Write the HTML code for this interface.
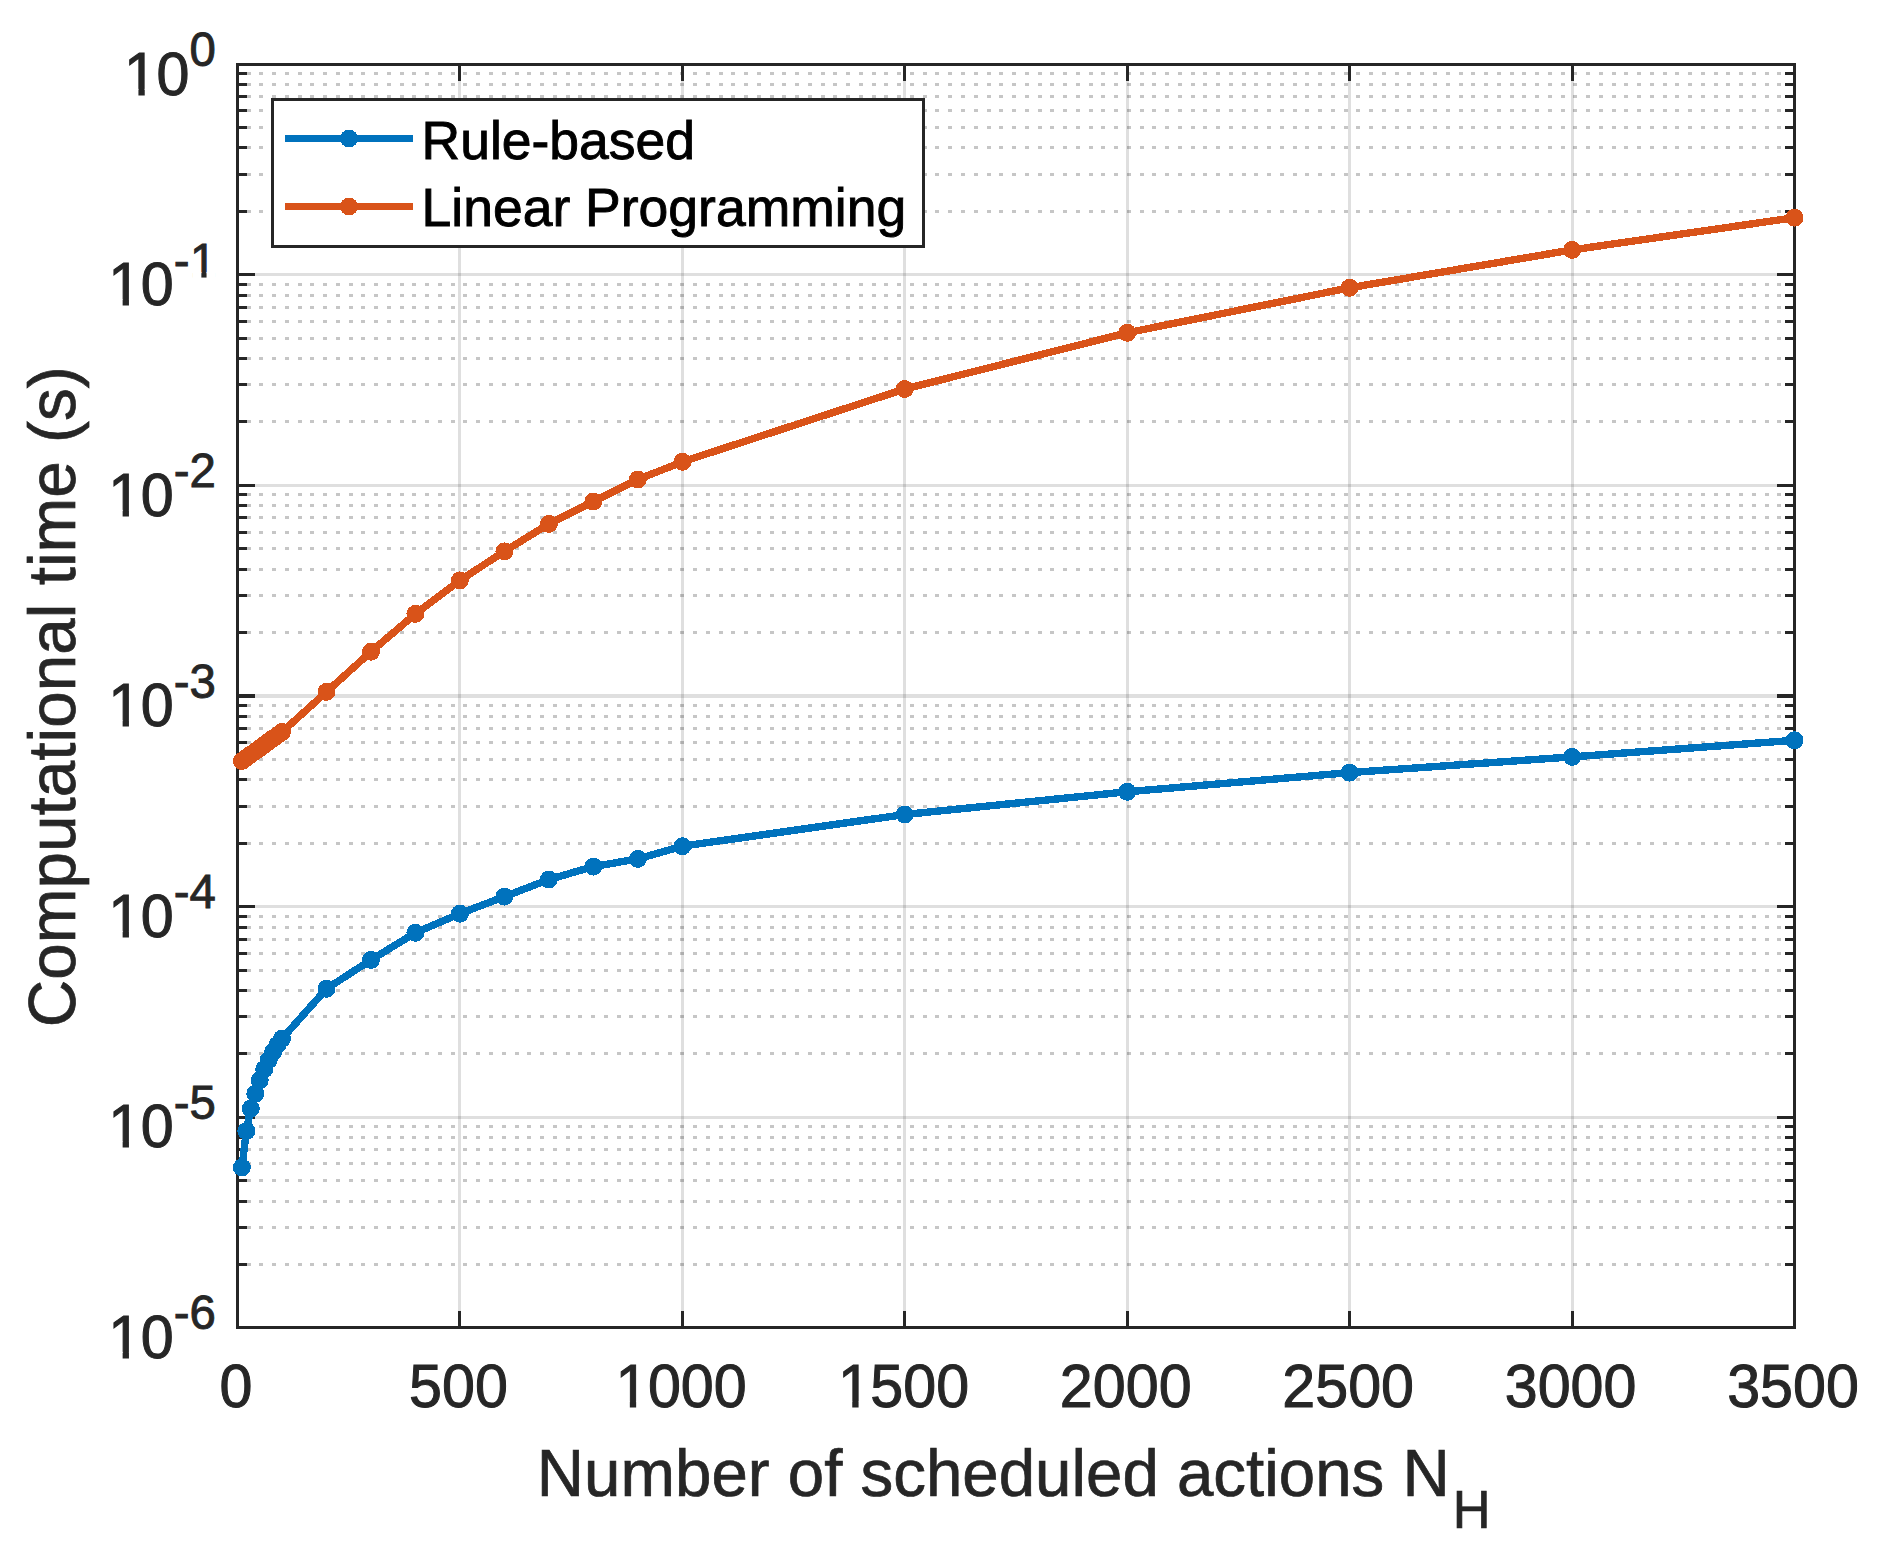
<!DOCTYPE html>
<html lang="en"><head><meta charset="utf-8"><title>Computational time</title>
<style>
html,body{margin:0;padding:0;background:#fff;}
body{width:1891px;height:1560px;overflow:hidden;}
svg{display:block;}
text{font-family:"Liberation Sans",Arial,Helvetica,sans-serif;fill:#262626;}
.tk{font-size:60px;stroke:#262626;stroke-width:1px;}
.ex{font-size:48px;stroke:#262626;stroke-width:0.9px;}
.lb{font-size:66px;stroke:#262626;stroke-width:0.7px;}
.sb{font-size:52.8px;stroke:#262626;stroke-width:0.7px;}
.lg{font-size:54px;fill:#000;stroke:#000;stroke-width:0.9px;}
</style></head><body>
<svg width="1891" height="1560" viewBox="0 0 1891 1560">
<rect x="0" y="0" width="1891" height="1560" fill="#fff"/>
<g shape-rendering="crispEdges" fill="none">
<g stroke="#1a1a1a" stroke-opacity="0.25" stroke-width="3" stroke-dasharray="4 8.757" stroke-dashoffset="3.65">
<line x1="237.5" y1="211.5" x2="1794.5" y2="211.5"/>
<line x1="237.5" y1="174.5" x2="1794.5" y2="174.5"/>
<line x1="237.5" y1="147.5" x2="1794.5" y2="147.5"/>
<line x1="237.5" y1="127.5" x2="1794.5" y2="127.5"/>
<line x1="237.5" y1="110.5" x2="1794.5" y2="110.5"/>
<line x1="237.5" y1="96.5" x2="1794.5" y2="96.5"/>
<line x1="237.5" y1="84.5" x2="1794.5" y2="84.5"/>
<line x1="237.5" y1="73.5" x2="1794.5" y2="73.5"/>
<line x1="237.5" y1="421.5" x2="1794.5" y2="421.5"/>
<line x1="237.5" y1="384.5" x2="1794.5" y2="384.5"/>
<line x1="237.5" y1="358.5" x2="1794.5" y2="358.5"/>
<line x1="237.5" y1="338.5" x2="1794.5" y2="338.5"/>
<line x1="237.5" y1="321.5" x2="1794.5" y2="321.5"/>
<line x1="237.5" y1="307.5" x2="1794.5" y2="307.5"/>
<line x1="237.5" y1="295.5" x2="1794.5" y2="295.5"/>
<line x1="237.5" y1="284.5" x2="1794.5" y2="284.5"/>
<line x1="237.5" y1="632.5" x2="1794.5" y2="632.5"/>
<line x1="237.5" y1="595.5" x2="1794.5" y2="595.5"/>
<line x1="237.5" y1="569.5" x2="1794.5" y2="569.5"/>
<line x1="237.5" y1="548.5" x2="1794.5" y2="548.5"/>
<line x1="237.5" y1="532.5" x2="1794.5" y2="532.5"/>
<line x1="237.5" y1="517.5" x2="1794.5" y2="517.5"/>
<line x1="237.5" y1="505.5" x2="1794.5" y2="505.5"/>
<line x1="237.5" y1="494.5" x2="1794.5" y2="494.5"/>
<line x1="237.5" y1="843.5" x2="1794.5" y2="843.5"/>
<line x1="237.5" y1="806.5" x2="1794.5" y2="806.5"/>
<line x1="237.5" y1="779.5" x2="1794.5" y2="779.5"/>
<line x1="237.5" y1="759.5" x2="1794.5" y2="759.5"/>
<line x1="237.5" y1="742.5" x2="1794.5" y2="742.5"/>
<line x1="237.5" y1="728.5" x2="1794.5" y2="728.5"/>
<line x1="237.5" y1="716.5" x2="1794.5" y2="716.5"/>
<line x1="237.5" y1="705.5" x2="1794.5" y2="705.5"/>
<line x1="237.5" y1="1053.5" x2="1794.5" y2="1053.5"/>
<line x1="237.5" y1="1016.5" x2="1794.5" y2="1016.5"/>
<line x1="237.5" y1="990.5" x2="1794.5" y2="990.5"/>
<line x1="237.5" y1="970.5" x2="1794.5" y2="970.5"/>
<line x1="237.5" y1="953.5" x2="1794.5" y2="953.5"/>
<line x1="237.5" y1="939.5" x2="1794.5" y2="939.5"/>
<line x1="237.5" y1="927.5" x2="1794.5" y2="927.5"/>
<line x1="237.5" y1="916.5" x2="1794.5" y2="916.5"/>
<line x1="237.5" y1="1264.5" x2="1794.5" y2="1264.5"/>
<line x1="237.5" y1="1227.5" x2="1794.5" y2="1227.5"/>
<line x1="237.5" y1="1201.5" x2="1794.5" y2="1201.5"/>
<line x1="237.5" y1="1180.5" x2="1794.5" y2="1180.5"/>
<line x1="237.5" y1="1163.5" x2="1794.5" y2="1163.5"/>
<line x1="237.5" y1="1149.5" x2="1794.5" y2="1149.5"/>
<line x1="237.5" y1="1137.5" x2="1794.5" y2="1137.5"/>
<line x1="237.5" y1="1126.5" x2="1794.5" y2="1126.5"/>
</g>
<g stroke="#262626" stroke-opacity="0.15" stroke-width="3">
<line x1="459.5" y1="64.5" x2="459.5" y2="1327.5"/>
<line x1="682.5" y1="64.5" x2="682.5" y2="1327.5"/>
<line x1="904.5" y1="64.5" x2="904.5" y2="1327.5"/>
<line x1="1127.5" y1="64.5" x2="1127.5" y2="1327.5"/>
<line x1="1349.5" y1="64.5" x2="1349.5" y2="1327.5"/>
<line x1="1572.5" y1="64.5" x2="1572.5" y2="1327.5"/>
<line x1="237.5" y1="274.5" x2="1794.5" y2="274.5"/>
<line x1="237.5" y1="485.5" x2="1794.5" y2="485.5"/>
<line x1="237.5" y1="696.0" x2="1794.5" y2="696.0" stroke-width="4"/>
<line x1="237.5" y1="906.5" x2="1794.5" y2="906.5"/>
<line x1="237.5" y1="1117.5" x2="1794.5" y2="1117.5"/>
</g>
</g>
<g shape-rendering="crispEdges" stroke="#262626" stroke-width="3" fill="none">
<line x1="459.5" y1="1327.5" x2="459.5" y2="1311.0"/>
<line x1="459.5" y1="64.5" x2="459.5" y2="81.0"/>
<line x1="682.5" y1="1327.5" x2="682.5" y2="1311.0"/>
<line x1="682.5" y1="64.5" x2="682.5" y2="81.0"/>
<line x1="904.5" y1="1327.5" x2="904.5" y2="1311.0"/>
<line x1="904.5" y1="64.5" x2="904.5" y2="81.0"/>
<line x1="1127.5" y1="1327.5" x2="1127.5" y2="1311.0"/>
<line x1="1127.5" y1="64.5" x2="1127.5" y2="81.0"/>
<line x1="1349.5" y1="1327.5" x2="1349.5" y2="1311.0"/>
<line x1="1349.5" y1="64.5" x2="1349.5" y2="81.0"/>
<line x1="1572.5" y1="1327.5" x2="1572.5" y2="1311.0"/>
<line x1="1572.5" y1="64.5" x2="1572.5" y2="81.0"/>
<line x1="237.5" y1="211.5" x2="247.0" y2="211.5"/>
<line x1="1794.5" y1="211.5" x2="1785.0" y2="211.5"/>
<line x1="237.5" y1="174.5" x2="247.0" y2="174.5"/>
<line x1="1794.5" y1="174.5" x2="1785.0" y2="174.5"/>
<line x1="237.5" y1="147.5" x2="247.0" y2="147.5"/>
<line x1="1794.5" y1="147.5" x2="1785.0" y2="147.5"/>
<line x1="237.5" y1="127.5" x2="247.0" y2="127.5"/>
<line x1="1794.5" y1="127.5" x2="1785.0" y2="127.5"/>
<line x1="237.5" y1="110.5" x2="247.0" y2="110.5"/>
<line x1="1794.5" y1="110.5" x2="1785.0" y2="110.5"/>
<line x1="237.5" y1="96.5" x2="247.0" y2="96.5"/>
<line x1="1794.5" y1="96.5" x2="1785.0" y2="96.5"/>
<line x1="237.5" y1="84.5" x2="247.0" y2="84.5"/>
<line x1="1794.5" y1="84.5" x2="1785.0" y2="84.5"/>
<line x1="237.5" y1="73.5" x2="247.0" y2="73.5"/>
<line x1="1794.5" y1="73.5" x2="1785.0" y2="73.5"/>
<line x1="237.5" y1="274.5" x2="255.0" y2="274.5"/>
<line x1="1794.5" y1="274.5" x2="1777.0" y2="274.5"/>
<line x1="237.5" y1="421.5" x2="247.0" y2="421.5"/>
<line x1="1794.5" y1="421.5" x2="1785.0" y2="421.5"/>
<line x1="237.5" y1="384.5" x2="247.0" y2="384.5"/>
<line x1="1794.5" y1="384.5" x2="1785.0" y2="384.5"/>
<line x1="237.5" y1="358.5" x2="247.0" y2="358.5"/>
<line x1="1794.5" y1="358.5" x2="1785.0" y2="358.5"/>
<line x1="237.5" y1="338.5" x2="247.0" y2="338.5"/>
<line x1="1794.5" y1="338.5" x2="1785.0" y2="338.5"/>
<line x1="237.5" y1="321.5" x2="247.0" y2="321.5"/>
<line x1="1794.5" y1="321.5" x2="1785.0" y2="321.5"/>
<line x1="237.5" y1="307.5" x2="247.0" y2="307.5"/>
<line x1="1794.5" y1="307.5" x2="1785.0" y2="307.5"/>
<line x1="237.5" y1="295.5" x2="247.0" y2="295.5"/>
<line x1="1794.5" y1="295.5" x2="1785.0" y2="295.5"/>
<line x1="237.5" y1="284.5" x2="247.0" y2="284.5"/>
<line x1="1794.5" y1="284.5" x2="1785.0" y2="284.5"/>
<line x1="237.5" y1="485.5" x2="255.0" y2="485.5"/>
<line x1="1794.5" y1="485.5" x2="1777.0" y2="485.5"/>
<line x1="237.5" y1="632.5" x2="247.0" y2="632.5"/>
<line x1="1794.5" y1="632.5" x2="1785.0" y2="632.5"/>
<line x1="237.5" y1="595.5" x2="247.0" y2="595.5"/>
<line x1="1794.5" y1="595.5" x2="1785.0" y2="595.5"/>
<line x1="237.5" y1="569.5" x2="247.0" y2="569.5"/>
<line x1="1794.5" y1="569.5" x2="1785.0" y2="569.5"/>
<line x1="237.5" y1="548.5" x2="247.0" y2="548.5"/>
<line x1="1794.5" y1="548.5" x2="1785.0" y2="548.5"/>
<line x1="237.5" y1="532.5" x2="247.0" y2="532.5"/>
<line x1="1794.5" y1="532.5" x2="1785.0" y2="532.5"/>
<line x1="237.5" y1="517.5" x2="247.0" y2="517.5"/>
<line x1="1794.5" y1="517.5" x2="1785.0" y2="517.5"/>
<line x1="237.5" y1="505.5" x2="247.0" y2="505.5"/>
<line x1="1794.5" y1="505.5" x2="1785.0" y2="505.5"/>
<line x1="237.5" y1="494.5" x2="247.0" y2="494.5"/>
<line x1="1794.5" y1="494.5" x2="1785.0" y2="494.5"/>
<line x1="237.5" y1="696.0" x2="255.0" y2="696.0" stroke-width="4"/>
<line x1="1794.5" y1="696.0" x2="1777.0" y2="696.0" stroke-width="4"/>
<line x1="237.5" y1="843.5" x2="247.0" y2="843.5"/>
<line x1="1794.5" y1="843.5" x2="1785.0" y2="843.5"/>
<line x1="237.5" y1="806.5" x2="247.0" y2="806.5"/>
<line x1="1794.5" y1="806.5" x2="1785.0" y2="806.5"/>
<line x1="237.5" y1="779.5" x2="247.0" y2="779.5"/>
<line x1="1794.5" y1="779.5" x2="1785.0" y2="779.5"/>
<line x1="237.5" y1="759.5" x2="247.0" y2="759.5"/>
<line x1="1794.5" y1="759.5" x2="1785.0" y2="759.5"/>
<line x1="237.5" y1="742.5" x2="247.0" y2="742.5"/>
<line x1="1794.5" y1="742.5" x2="1785.0" y2="742.5"/>
<line x1="237.5" y1="728.5" x2="247.0" y2="728.5"/>
<line x1="1794.5" y1="728.5" x2="1785.0" y2="728.5"/>
<line x1="237.5" y1="716.5" x2="247.0" y2="716.5"/>
<line x1="1794.5" y1="716.5" x2="1785.0" y2="716.5"/>
<line x1="237.5" y1="705.5" x2="247.0" y2="705.5"/>
<line x1="1794.5" y1="705.5" x2="1785.0" y2="705.5"/>
<line x1="237.5" y1="906.5" x2="255.0" y2="906.5"/>
<line x1="1794.5" y1="906.5" x2="1777.0" y2="906.5"/>
<line x1="237.5" y1="1053.5" x2="247.0" y2="1053.5"/>
<line x1="1794.5" y1="1053.5" x2="1785.0" y2="1053.5"/>
<line x1="237.5" y1="1016.5" x2="247.0" y2="1016.5"/>
<line x1="1794.5" y1="1016.5" x2="1785.0" y2="1016.5"/>
<line x1="237.5" y1="990.5" x2="247.0" y2="990.5"/>
<line x1="1794.5" y1="990.5" x2="1785.0" y2="990.5"/>
<line x1="237.5" y1="970.5" x2="247.0" y2="970.5"/>
<line x1="1794.5" y1="970.5" x2="1785.0" y2="970.5"/>
<line x1="237.5" y1="953.5" x2="247.0" y2="953.5"/>
<line x1="1794.5" y1="953.5" x2="1785.0" y2="953.5"/>
<line x1="237.5" y1="939.5" x2="247.0" y2="939.5"/>
<line x1="1794.5" y1="939.5" x2="1785.0" y2="939.5"/>
<line x1="237.5" y1="927.5" x2="247.0" y2="927.5"/>
<line x1="1794.5" y1="927.5" x2="1785.0" y2="927.5"/>
<line x1="237.5" y1="916.5" x2="247.0" y2="916.5"/>
<line x1="1794.5" y1="916.5" x2="1785.0" y2="916.5"/>
<line x1="237.5" y1="1117.5" x2="255.0" y2="1117.5"/>
<line x1="1794.5" y1="1117.5" x2="1777.0" y2="1117.5"/>
<line x1="237.5" y1="1264.5" x2="247.0" y2="1264.5"/>
<line x1="1794.5" y1="1264.5" x2="1785.0" y2="1264.5"/>
<line x1="237.5" y1="1227.5" x2="247.0" y2="1227.5"/>
<line x1="1794.5" y1="1227.5" x2="1785.0" y2="1227.5"/>
<line x1="237.5" y1="1201.5" x2="247.0" y2="1201.5"/>
<line x1="1794.5" y1="1201.5" x2="1785.0" y2="1201.5"/>
<line x1="237.5" y1="1180.5" x2="247.0" y2="1180.5"/>
<line x1="1794.5" y1="1180.5" x2="1785.0" y2="1180.5"/>
<line x1="237.5" y1="1163.5" x2="247.0" y2="1163.5"/>
<line x1="1794.5" y1="1163.5" x2="1785.0" y2="1163.5"/>
<line x1="237.5" y1="1149.5" x2="247.0" y2="1149.5"/>
<line x1="1794.5" y1="1149.5" x2="1785.0" y2="1149.5"/>
<line x1="237.5" y1="1137.5" x2="247.0" y2="1137.5"/>
<line x1="1794.5" y1="1137.5" x2="1785.0" y2="1137.5"/>
<line x1="237.5" y1="1126.5" x2="247.0" y2="1126.5"/>
<line x1="1794.5" y1="1126.5" x2="1785.0" y2="1126.5"/>
<rect x="237.5" y="64.5" width="1557.0" height="1263.0"/>
</g>
<polyline points="241.9,1167.4 246.4,1131.0 250.8,1108.6 255.3,1093.7 259.7,1080.3 264.2,1069.3 268.6,1060.1 273.1,1052.0 277.5,1044.9 282.0,1038.6 326.5,988.8 371.0,959.9 415.4,932.8 459.9,913.7 504.4,896.6 548.9,879.5 593.4,866.6 637.9,858.9 682.4,846.2 904.8,814.5 1127.2,791.8 1349.6,772.6 1572.1,756.9 1794.5,740.3" fill="none" stroke="#0072BD" stroke-width="7.4" stroke-linejoin="round" shape-rendering="crispEdges"/>
<circle cx="241.9" cy="1167.4" r="9" fill="#0072BD" shape-rendering="crispEdges"/>
<circle cx="246.4" cy="1131.0" r="9" fill="#0072BD" shape-rendering="crispEdges"/>
<circle cx="250.8" cy="1108.6" r="9" fill="#0072BD" shape-rendering="crispEdges"/>
<circle cx="255.3" cy="1093.7" r="9" fill="#0072BD" shape-rendering="crispEdges"/>
<circle cx="259.7" cy="1080.3" r="9" fill="#0072BD" shape-rendering="crispEdges"/>
<circle cx="264.2" cy="1069.3" r="9" fill="#0072BD" shape-rendering="crispEdges"/>
<circle cx="268.6" cy="1060.1" r="9" fill="#0072BD" shape-rendering="crispEdges"/>
<circle cx="273.1" cy="1052.0" r="9" fill="#0072BD" shape-rendering="crispEdges"/>
<circle cx="277.5" cy="1044.9" r="9" fill="#0072BD" shape-rendering="crispEdges"/>
<circle cx="282.0" cy="1038.6" r="9" fill="#0072BD" shape-rendering="crispEdges"/>
<circle cx="326.5" cy="988.8" r="9" fill="#0072BD" shape-rendering="crispEdges"/>
<circle cx="371.0" cy="959.9" r="9" fill="#0072BD" shape-rendering="crispEdges"/>
<circle cx="415.4" cy="932.8" r="9" fill="#0072BD" shape-rendering="crispEdges"/>
<circle cx="459.9" cy="913.7" r="9" fill="#0072BD" shape-rendering="crispEdges"/>
<circle cx="504.4" cy="896.6" r="9" fill="#0072BD" shape-rendering="crispEdges"/>
<circle cx="548.9" cy="879.5" r="9" fill="#0072BD" shape-rendering="crispEdges"/>
<circle cx="593.4" cy="866.6" r="9" fill="#0072BD" shape-rendering="crispEdges"/>
<circle cx="637.9" cy="858.9" r="9" fill="#0072BD" shape-rendering="crispEdges"/>
<circle cx="682.4" cy="846.2" r="9" fill="#0072BD" shape-rendering="crispEdges"/>
<circle cx="904.8" cy="814.5" r="9" fill="#0072BD" shape-rendering="crispEdges"/>
<circle cx="1127.2" cy="791.8" r="9" fill="#0072BD" shape-rendering="crispEdges"/>
<circle cx="1349.6" cy="772.6" r="9" fill="#0072BD" shape-rendering="crispEdges"/>
<circle cx="1572.1" cy="756.9" r="9" fill="#0072BD" shape-rendering="crispEdges"/>
<circle cx="1794.5" cy="740.3" r="9" fill="#0072BD" shape-rendering="crispEdges"/>
<polyline points="241.9,761.0 246.4,757.8 250.8,754.6 255.3,751.3 259.7,748.1 264.2,744.9 268.6,741.7 273.1,738.4 277.5,735.2 282.0,732.0 326.5,691.9 371.0,651.7 415.4,613.9 459.9,580.4 504.4,551.4 548.9,523.9 593.4,501.5 637.9,479.5 682.4,461.8 904.8,389.0 1127.2,332.8 1349.6,287.8 1572.1,249.9 1794.5,217.7" fill="none" stroke="#D95319" stroke-width="7.4" stroke-linejoin="round" shape-rendering="crispEdges"/>
<circle cx="241.9" cy="761.0" r="9" fill="#D95319" shape-rendering="crispEdges"/>
<circle cx="246.4" cy="757.8" r="9" fill="#D95319" shape-rendering="crispEdges"/>
<circle cx="250.8" cy="754.6" r="9" fill="#D95319" shape-rendering="crispEdges"/>
<circle cx="255.3" cy="751.3" r="9" fill="#D95319" shape-rendering="crispEdges"/>
<circle cx="259.7" cy="748.1" r="9" fill="#D95319" shape-rendering="crispEdges"/>
<circle cx="264.2" cy="744.9" r="9" fill="#D95319" shape-rendering="crispEdges"/>
<circle cx="268.6" cy="741.7" r="9" fill="#D95319" shape-rendering="crispEdges"/>
<circle cx="273.1" cy="738.4" r="9" fill="#D95319" shape-rendering="crispEdges"/>
<circle cx="277.5" cy="735.2" r="9" fill="#D95319" shape-rendering="crispEdges"/>
<circle cx="282.0" cy="732.0" r="9" fill="#D95319" shape-rendering="crispEdges"/>
<circle cx="326.5" cy="691.9" r="9" fill="#D95319" shape-rendering="crispEdges"/>
<circle cx="371.0" cy="651.7" r="9" fill="#D95319" shape-rendering="crispEdges"/>
<circle cx="415.4" cy="613.9" r="9" fill="#D95319" shape-rendering="crispEdges"/>
<circle cx="459.9" cy="580.4" r="9" fill="#D95319" shape-rendering="crispEdges"/>
<circle cx="504.4" cy="551.4" r="9" fill="#D95319" shape-rendering="crispEdges"/>
<circle cx="548.9" cy="523.9" r="9" fill="#D95319" shape-rendering="crispEdges"/>
<circle cx="593.4" cy="501.5" r="9" fill="#D95319" shape-rendering="crispEdges"/>
<circle cx="637.9" cy="479.5" r="9" fill="#D95319" shape-rendering="crispEdges"/>
<circle cx="682.4" cy="461.8" r="9" fill="#D95319" shape-rendering="crispEdges"/>
<circle cx="904.8" cy="389.0" r="9" fill="#D95319" shape-rendering="crispEdges"/>
<circle cx="1127.2" cy="332.8" r="9" fill="#D95319" shape-rendering="crispEdges"/>
<circle cx="1349.6" cy="287.8" r="9" fill="#D95319" shape-rendering="crispEdges"/>
<circle cx="1572.1" cy="249.9" r="9" fill="#D95319" shape-rendering="crispEdges"/>
<circle cx="1794.5" cy="217.7" r="9" fill="#D95319" shape-rendering="crispEdges"/>
<rect x="272.5" y="99.5" width="651" height="147" fill="#fff" stroke="#262626" stroke-width="3" shape-rendering="crispEdges"/>
<line x1="285" y1="138.5" x2="413" y2="138.5" stroke="#0072BD" stroke-width="7" shape-rendering="crispEdges"/>
<circle cx="349" cy="138.5" r="9" fill="#0072BD" shape-rendering="crispEdges"/>
<line x1="285" y1="206.5" x2="413" y2="206.5" stroke="#D95319" stroke-width="7" shape-rendering="crispEdges"/>
<circle cx="349" cy="206.5" r="9" fill="#D95319" shape-rendering="crispEdges"/>
<text class="lg" transform="translate(421.50,158.90) scale(0.9910,1.0100)">Rule-based</text>
<text class="lg" transform="translate(421.50,225.80) scale(0.9910,1.0100)">Linear Programming</text>
<text class="tk" text-anchor="middle" transform="translate(236.00,1407.20) scale(0.9870,1.0310)">0</text>
<text class="tk" text-anchor="middle" transform="translate(458.43,1407.20) scale(0.9870,1.0310)">500</text>
<g transform="translate(680.86,1407.20) scale(0.9870,1.0310)"><text class="tk" x="-66.24 -33.37 0.00 33.37">1000</text><rect x="-62.97" y="-5.58" width="11.27" height="7.68" fill="#fff"/><rect x="-45.30" y="-5.58" width="10.80" height="7.68" fill="#fff"/></g>
<g transform="translate(903.29,1407.20) scale(0.9870,1.0310)"><text class="tk" x="-66.24 -33.37 0.00 33.37">1500</text><rect x="-62.97" y="-5.58" width="11.27" height="7.68" fill="#fff"/><rect x="-45.30" y="-5.58" width="10.80" height="7.68" fill="#fff"/></g>
<text class="tk" text-anchor="middle" transform="translate(1125.71,1407.20) scale(0.9870,1.0310)">2000</text>
<text class="tk" text-anchor="middle" transform="translate(1348.14,1407.20) scale(0.9870,1.0310)">2500</text>
<text class="tk" text-anchor="middle" transform="translate(1570.57,1407.20) scale(0.9870,1.0310)">3000</text>
<text class="tk" text-anchor="middle" transform="translate(1793.00,1407.20) scale(0.9870,1.0310)">3500</text>
<text class="ex" text-anchor="end" transform="translate(215.80,66.10) scale(0.9870,1.0000)">0</text>
<g transform="translate(189.45,94.60) scale(0.9870,1.0310)"><text class="tk" x="-66.24 -33.37">10</text><rect x="-62.97" y="-5.58" width="11.27" height="7.68" fill="#fff"/><rect x="-45.30" y="-5.58" width="10.80" height="7.68" fill="#fff"/></g>
<g transform="translate(215.80,276.60) scale(0.9870,1.0000)"><text class="ex" x="-42.68 -26.20">-1</text><rect x="-23.79" y="-4.64" width="9.16" height="6.69" fill="#fff"/><rect x="-9.38" y="-4.64" width="8.79" height="6.69" fill="#fff"/></g>
<g transform="translate(173.66,305.10) scale(0.9870,1.0310)"><text class="tk" x="-66.24 -33.37">10</text><rect x="-62.97" y="-5.58" width="11.27" height="7.68" fill="#fff"/><rect x="-45.30" y="-5.58" width="10.80" height="7.68" fill="#fff"/></g>
<text class="ex" text-anchor="end" transform="translate(215.80,487.10) scale(0.9870,1.0000)">-2</text>
<g transform="translate(173.66,515.60) scale(0.9870,1.0310)"><text class="tk" x="-66.24 -33.37">10</text><rect x="-62.97" y="-5.58" width="11.27" height="7.68" fill="#fff"/><rect x="-45.30" y="-5.58" width="10.80" height="7.68" fill="#fff"/></g>
<text class="ex" text-anchor="end" transform="translate(215.80,697.60) scale(0.9870,1.0000)">-3</text>
<g transform="translate(173.66,726.10) scale(0.9870,1.0310)"><text class="tk" x="-66.24 -33.37">10</text><rect x="-62.97" y="-5.58" width="11.27" height="7.68" fill="#fff"/><rect x="-45.30" y="-5.58" width="10.80" height="7.68" fill="#fff"/></g>
<text class="ex" text-anchor="end" transform="translate(215.80,908.10) scale(0.9870,1.0000)">-4</text>
<g transform="translate(173.66,936.60) scale(0.9870,1.0310)"><text class="tk" x="-66.24 -33.37">10</text><rect x="-62.97" y="-5.58" width="11.27" height="7.68" fill="#fff"/><rect x="-45.30" y="-5.58" width="10.80" height="7.68" fill="#fff"/></g>
<text class="ex" text-anchor="end" transform="translate(215.80,1118.60) scale(0.9870,1.0000)">-5</text>
<g transform="translate(173.66,1147.10) scale(0.9870,1.0310)"><text class="tk" x="-66.24 -33.37">10</text><rect x="-62.97" y="-5.58" width="11.27" height="7.68" fill="#fff"/><rect x="-45.30" y="-5.58" width="10.80" height="7.68" fill="#fff"/></g>
<text class="ex" text-anchor="end" transform="translate(215.80,1329.10) scale(0.9870,1.0000)">-6</text>
<g transform="translate(173.66,1357.60) scale(0.9870,1.0310)"><text class="tk" x="-66.24 -33.37">10</text><rect x="-62.97" y="-5.58" width="11.27" height="7.68" fill="#fff"/><rect x="-45.30" y="-5.58" width="10.80" height="7.68" fill="#fff"/></g>
<text class="lb" transform="translate(536.85,1496.00) scale(0.9917,1.0220)">Number of scheduled actions N</text>
<text class="sb" transform="translate(1452.80,1527.90) scale(0.9917,1.0220)">H</text>
<text class="lb" text-anchor="middle" transform="translate(75.20,696.80) rotate(-90) scale(0.9955,1.0220)">Computational time (s)</text>
</svg></body></html>
